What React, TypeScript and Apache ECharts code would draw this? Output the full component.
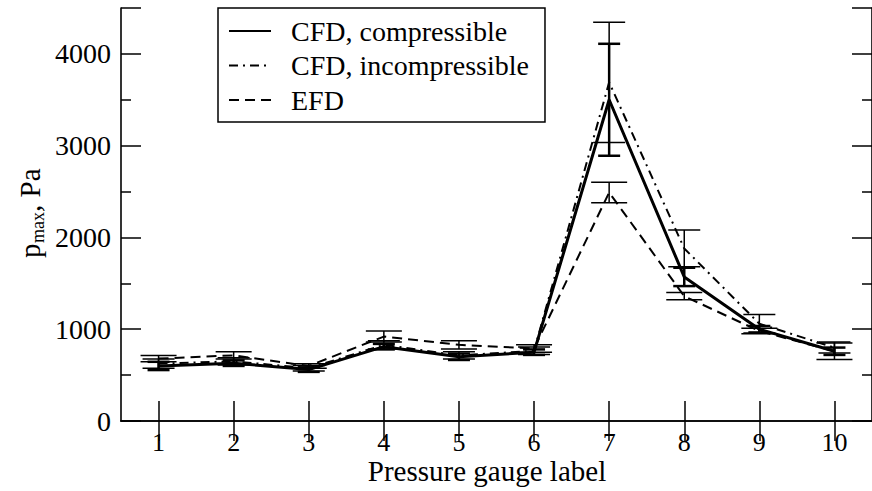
import React, { useEffect, useRef } from "react";
import * as echarts from "echarts";

const categories = ["1", "2", "3", "4", "5", "6", "7", "8", "9", "10"];
const cfdComp = [600, 630, 560, 810, 700, 750, 3500, 1570, 1000, 760];
const cfdCompErr = [45, 30, 25, 30, 35, 30, 610, 100, 35, 40];
const cfdIncomp = [625, 650, 575, 830, 715, 765, 3690, 1880, 1060, 800];
const cfdIncompErr = [50, 40, 30, 45, 40, 40, 655, 200, 100, 60];
const efd = [680, 715, 600, 920, 830, 790, 2490, 1360, 980, 760];
const efdErr = [35, 40, 25, 60, 45, 40, 112, 40, 30, 90];
const seriesNames = ["CFD, compressible", "CFD, incompressible", "EFD"];

const FONT = '"Liberation Serif", "DejaVu Serif", serif';

function errSeries(name: string, vals: number[], errs: number[], half: number, width: number) {
  return {
    type: "custom",
    name: name + " error",
    data: vals.map((v, i) => [i, v, errs[i]]),
    encode: { x: 0, y: 1 },
    z: 1,
    silent: true,
    renderItem: (params: any, api: any) => {
      const i = api.value(0);
      const v = api.value(1);
      const e = api.value(2);
      const hi = api.coord([i, v + e]);
      const lo = api.coord([i, v - e]);
      const style = { stroke: "#000", lineWidth: width, fill: "none" };
      return {
        type: "group",
        children: [
          { type: "line", shape: { x1: hi[0], y1: hi[1], x2: lo[0], y2: lo[1] }, style },
          { type: "line", shape: { x1: hi[0] - half, y1: hi[1], x2: hi[0] + half, y2: hi[1] }, style },
          { type: "line", shape: { x1: lo[0] - half, y1: lo[1], x2: lo[0] + half, y2: lo[1] }, style },
        ],
      };
    },
  };
}

export default function App() {
  const ref = useRef<HTMLDivElement>(null);
  useEffect(() => {
    document.body.style.margin = "0";
    const chart = echarts.init(ref.current!, null, { renderer: "svg" });
    const axisLine = { show: true, lineStyle: { color: "#000", width: 1.6 } };
    const tick = { show: true, inside: true, length: 20, lineStyle: { color: "#000", width: 1.5 } };
    const xTick = { ...tick, alignWithLabel: true };
    chart.setOption({
      animation: false,
      backgroundColor: "#fff",
      grid: { left: 121, right: -9.7, top: 8, bottom: 70, containLabel: false },
      legend: {
        data: seriesNames,
        orient: "vertical",
        left: 218,
        top: 8,
        padding: [8, 16, 7, 10],
        itemGap: 4.5,
        itemWidth: 42,
        itemHeight: 14,
        borderColor: "#000",
        borderWidth: 1.5,
        backgroundColor: "#fff",
        itemStyle: { opacity: 0 },
        textStyle: { fontFamily: FONT, fontSize: 28, color: "#000", lineHeight: 30, padding: [0, 0, 0, 15] },
      },
      xAxis: [
        {
          type: "category",
          data: categories,
          position: "bottom",
          boundaryGap: true,
          axisLine,
          axisTick: xTick,
          axisLabel: { fontFamily: FONT, fontSize: 26, lineHeight: 22, color: "#000", margin: 10 },
          splitLine: { show: false },
        },
        {
          type: "category",
          data: categories,
          position: "top",
          boundaryGap: true,
          axisLine,
          axisTick: xTick,
          axisLabel: { show: false },
          splitLine: { show: false },
        },
      ],
      yAxis: [
        {
          type: "value",
          min: 0,
          max: 4500,
          interval: 1000,
          position: "left",
          axisLine,
          axisTick: tick,
          minorTick: { show: true, splitNumber: 2, length: 10, lineStyle: { color: "#000", width: 1.5 } },
          axisLabel: {
            fontFamily: FONT,
            fontSize: 28,
            color: "#000",
            margin: 10,
            showMaxLabel: false,
            formatter: (v: number) => String(v),
          },
          splitLine: { show: false },
          minorSplitLine: { show: false },
        },
        {
          type: "value",
          min: 0,
          max: 4500,
          interval: 1000,
          position: "right",
          axisLine,
          axisTick: tick,
          minorTick: { show: true, splitNumber: 2, length: 10, lineStyle: { color: "#000", width: 1.5 } },
          axisLabel: { show: false },
          splitLine: { show: false },
        },
      ],
      graphic: [
        {
          type: "text",
          x: 487,
          y: 471,
          style: {
            text: "Pressure gauge label",
            fontFamily: FONT,
            fontSize: 29,
            lineHeight: 24,
            fill: "#000",
            textAlign: "center",
            textVerticalAlign: "middle",
          },
        },
        {
          type: "group",
          x: 30,
          y: 212,
          rotation: Math.PI / 2,
          children: [
            { type: "text", x: -46, y: 0, style: { text: "p", fontFamily: FONT, fontSize: 29, fill: "#000", textAlign: "left", textVerticalAlign: "middle" } },
            { type: "text", x: -31, y: 8, style: { text: "max", fontFamily: FONT, fontSize: 18, fill: "#000", textAlign: "left", textVerticalAlign: "middle" } },
            { type: "text", x: 0, y: 0, style: { text: ", Pa", fontFamily: FONT, fontSize: 29, fill: "#000", textAlign: "left", textVerticalAlign: "middle" } },
          ],
        },
      ],
      series: [
        errSeries(seriesNames[0], cfdComp, cfdCompErr, 11, 2.5),
        errSeries(seriesNames[1], cfdIncomp, cfdIncompErr, 16, 1.5),
        errSeries(seriesNames[2], efd, efdErr, 18, 1.5),
        {
          type: "line",
          name: seriesNames[0],
          data: cfdComp,
          symbol: "none",
          z: 3,
          lineStyle: { color: "#000", width: 3, type: "solid" },
          itemStyle: { color: "#000" },
        },
        {
          type: "line",
          name: seriesNames[1],
          data: cfdIncomp,
          symbol: "none",
          z: 3,
          lineStyle: { color: "#000", width: 2, type: [9, 5, 2, 5] },
          itemStyle: { color: "#000" },
        },
        {
          type: "line",
          name: seriesNames[2],
          data: efd,
          symbol: "none",
          z: 3,
          lineStyle: { color: "#000", width: 2, type: [10, 6] },
          itemStyle: { color: "#000" },
        },
      ],
    });
    return () => chart.dispose();
  }, []);
  return <div ref={ref} style={{ width: 872, height: 491 }} />;
}
